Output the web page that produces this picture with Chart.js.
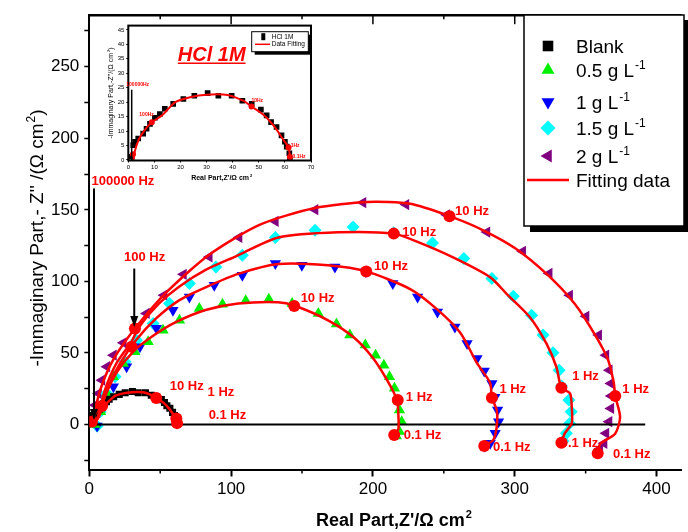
<!DOCTYPE html>
<html>
<head>
<meta charset="utf-8">
<script src="https://cdn.jsdelivr.net/npm/chart.js@4.4.1/dist/chart.umd.min.js"></script>
<style>
    html, body { margin: 0; padding: 0; background: #ffffff; }
    #wrap { position: relative; width: 688px; height: 532px; overflow: hidden; }
    #mainChart { position: absolute; left: 0; top: 0; }
    #insetChart { position: absolute; left: 96px; top: 20px; }
</style>
</head>
<body>
<div id="wrap">
    <canvas id="mainChart" width="688" height="532"></canvas>
    <canvas id="insetChart" width="222" height="168"></canvas>
</div>
<script>
// Nyquist data, Z' (x) and -Z'' (y) in Ω cm²

// Blank (HCl 1M), also shown in the inset
const blankX = [1.3, 1.9, 2.6, 3.8, 5.7, 7.0, 8.3, 10.2, 12.1, 14.0, 17.2, 21.1, 25.3, 30.4, 34.5, 39.6, 43.7, 47.3, 50.8, 53.0, 54.7, 56.8, 58.7, 60.0, 60.7, 61.7, 61.9];
const blankY = [1.1, 5.1, 6.3, 7.4, 9.1, 10.8, 12.5, 14.6, 15.9, 17.7, 19.4, 21.1, 22.2, 23.1, 22.2, 22.2, 20.5, 19.4, 17.4, 15.4, 13.1, 11.4, 8.5, 6.3, 4.6, 2.3, 0.2];
const blankFitX = [2, 2.5, 4, 6, 9, 13, 18, 24, 30, 38, 44, 47.2, 52, 56, 59, 61.4, 61.9];
const blankFitY = [0, 3, 7, 10, 13, 15.5, 20, 21.8, 22.6, 22.5, 20.5, 18.5, 15.5, 11.5, 7.5, 4.3, 1];
const blankFreqX = [1.8, 9, 47.2, 61.4, 61.9];
const blankFreqY = [2, 13, 18.5, 4.3, 1];

// 0.5 g/L
const c05X = [4, 8, 12.4, 17, 24, 32.2, 41.5, 52, 63.6, 77.6, 93.9, 110.3, 126.6, 143, 161.5, 174.3, 183.7, 194.6, 201.9, 207.7, 211.7, 215.2, 217.5, 218.7, 220.3, 218.7, 216.5];
const c05Y = [0, 9, 21.7, 33.4, 42.7, 50.8, 57.8, 65.9, 72.9, 81, 84, 86.5, 87.5, 84.5, 77.6, 70.2, 62.5, 55.5, 48.5, 41.5, 33.4, 25.3, 17.1, 10.1, 2, -4.8, -8];
const c05FitX = [3, 6, 11, 19, 31, 45, 61, 82, 105, 133, 145, 169, 187, 200, 210, 217, 218, 218, 216];
const c05FitY = [0, 5, 19.5, 36, 51, 62, 71.5, 80, 84.5, 85.5, 83, 72.5, 60.5, 46.5, 31, 17, 5.5, -3, -7];
const c05FreqX = [144.5, 217.5, 215];
const c05FreqY = [82.8, 17.1, -7.3];

// 1 g/L
const c1X = [5.5, 10, 17, 26.3, 35.7, 47.3, 59, 70.6, 88.1, 107.9, 131.2, 149.9, 173.2, 195, 214, 231.5, 245.5, 257.8, 266.4, 273.4, 278.5, 283.9, 286, 287.9, 288.6, 286.2, 282.7, 279];
const c1Y = [-1, 12.4, 26.4, 40.4, 54.3, 67.2, 79.9, 89.2, 97.3, 104.3, 112.5, 111.3, 110.1, 107, 98.5, 89.2, 78.7, 68.2, 56.7, 46.2, 37.5, 28.7, 19, 10.1, 2, -6.1, -13.1, -15];
const c1FitX = [3, 7, 12.4, 21.7, 32.9, 46.9, 63.3, 82, 105, 133.4, 168.3, 195.3, 226.6, 245.3, 261.6, 273.2, 282.6, 283.9, 287.3, 287.3, 284.9, 278.5];
const c1FitY = [0, 6, 24.1, 42.7, 58.9, 74, 86.8, 95.9, 105.3, 112.2, 111.3, 107, 94.5, 80.5, 64.2, 43.2, 29.2, 18.7, 10.1, -1.5, -10.7, -15];
const c1FreqX = [29.8, 195.3, 283.9, 278.5];
const c1FreqY = [54.3, 107, 18.7, -15];

// 1.5 g/L
const c15X = [5.5, 7.7, 12.4, 18.2, 25.2, 33.3, 45, 56.6, 70.6, 89.3, 107.9, 131.2, 159.2, 186, 214.7, 242, 264.1, 283.9, 299, 311.9, 320, 327, 331.3, 333, 338.2, 339.8, 338.7, 336.4, 334];
const c15Y = [-1, 9, 21.7, 33.4, 43.9, 58.9, 70.6, 84.6, 98.5, 110.1, 118.3, 130.7, 135.7, 138.1, 134, 126.9, 116, 102, 89.6, 76.4, 62.5, 50.1, 38, 27, 17.1, 9, 0.8, -6.1, -11.5];
const c15FitX = [3, 6, 11, 19.1, 29.8, 35.2, 49.2, 63.3, 82, 103, 133.4, 175.5, 214.7, 231.5, 256.9, 282.6, 294.4, 310.7, 322.4, 329.4, 332.9, 339, 340.2, 340.2, 335.3, 332.9];
const c15FitY = [0, 5, 24.1, 42.7, 58, 68.3, 84.6, 96.3, 108, 117.4, 130.7, 134.3, 133.4, 127.6, 116.6, 103, 91.2, 75, 56.5, 40.2, 25.7, 21.8, 12.4, 0.8, -6.1, -12.7];
const c15FreqX = [214.7, 332.9, 332.9];
const c15FreqY = [133.4, 25.7, -12.7];

// 2 g/L
const c2X = [3, 4.2, 6.5, 8.9, 12.4, 17, 24, 32.2, 40.3, 52.7, 66.4, 84.6, 105.6, 131.2, 159.2, 193, 223.3, 252, 280.4, 305.6, 324.3, 338.7, 350.3, 359.2, 364.3, 366.7, 367.8, 368, 367.8, 366.5, 364.3, 363, 360];
const c2Y = [5, 13.6, 21.7, 31, 40.4, 48.5, 57.1, 67.1, 77.6, 90.4, 105, 117.1, 130.7, 142, 150.1, 155.1, 153.7, 146.5, 134.5, 121, 105.6, 90.3, 75.6, 62.5, 48.5, 38, 28.7, 20, 11.3, 2, -6.1, -13.1, -17];
const c2FitX = [2, 8, 17, 32.2, 55, 85, 120, 159, 196, 226.3, 254, 277.4, 300.6, 323.8, 342.4, 356.3, 365.6, 369.8, 370.9, 374.3, 370.8, 360.3, 358.5];
const c2FitY = [2, 25, 45.5, 67.1, 93, 119, 139.5, 151.3, 155.5, 154.2, 145.6, 135.9, 123, 104, 84.2, 63.2, 45.8, 29.4, 19.9, 5.2, -6.4, -13.5, -20.1];
const c2FreqX = [32.2, 254, 370.9, 358.5];
const c2FreqY = [67.1, 145.6, 19.9, -20.1];

// zero reference line
const baselineX = [0, 392];
const baselineY = [0, 0];

// axis ticks
const xTickValues = [0, 50, 100, 150, 200, 250, 300, 350, 400];
const yTickValues = [-25, 0, 25, 50, 75, 100, 125, 150, 175, 200, 225, 250, 275];
const insetXTicks = [0, 10, 20, 30, 40, 50, 60, 70];
const insetYTicks = [0, 5, 10, 15, 20, 25, 30, 35, 40, 45];

// frequency annotations (text, x, y in data units)
const freqLabels = [
    ['100000 Hz', 23.7, 170],
    ['100 Hz', 39, 117],
    ['10 Hz', 68.7, 26.5], ['1 Hz', 92.8, 22.5], ['0.1 Hz', 97.4, 6.7],
    ['10 Hz', 161, 88], ['1 Hz', 232.6, 18.9], ['0.1 Hz', 235, -7.7],
    ['10 Hz', 212.8, 110.2], ['1 Hz', 298.6, 24.5], ['0.1 Hz', 297.9, -16.2],
    ['10 Hz', 232.6, 134.5], ['1 Hz', 349.9, 33.4], ['0.1 Hz', 345.7, -13],
    ['10 Hz', 269.9, 149.2], ['1 Hz', 385.3, 24.5], ['0.1 Hz', 382.5, -20.8],
];
const freqArrows = [
    [3.3, 165, 3.1],
    [31.7, 109, 68.2],
];
const insetFreqLabels = [
    ['100000Hz', 3.6, 26.2], ['100Hz', 7, 15.7], ['10Hz', 49.4, 20.5],
    ['1Hz', 63.9, 4.9], ['0.1Hz', 65.4, 1.1],
];

const FONT = "'Liberation Sans', Arial, Helvetica, sans-serif";
const RED = '#ff0000';

const zip = (xs, ys) => xs.map((x, i) => ({ x, y: ys[i] }));

const series = [
    { label: 'Blank', x: blankX, y: blankY, fitX: blankFitX, fitY: blankFitY, freqX: blankFreqX, freqY: blankFreqY, color: '#000000', shape: 'rect', rotation: 0, radius: 5 },
    { label: '0.5 g L⁻¹', x: c05X, y: c05Y, fitX: c05FitX, fitY: c05FitY, freqX: c05FreqX, freqY: c05FreqY, color: '#00ee00', shape: 'triangle', rotation: 0, radius: 6.5 },
    { label: '1 g L⁻¹', x: c1X, y: c1Y, fitX: c1FitX, fitY: c1FitY, freqX: c1FreqX, freqY: c1FreqY, color: '#0000ff', shape: 'triangle', rotation: 180, radius: 6.5 },
    { label: '1.5 g L⁻¹', x: c15X, y: c15Y, fitX: c15FitX, fitY: c15FitY, freqX: c15FreqX, freqY: c15FreqY, color: '#00ffff', shape: 'rectRot', rotation: 0, radius: 6.5 },
    { label: '2 g L⁻¹', x: c2X, y: c2Y, fitX: c2FitX, fitY: c2FitY, freqX: c2FreqX, freqY: c2FreqY, color: '#800080', shape: 'triangle', rotation: 270, radius: 6.5 },
];

// small marker shapes for the hand-drawn legends
function drawMarker(ctx, shape, rotation, x, y, r, color) {
    ctx.save();
    ctx.fillStyle = color;
    ctx.beginPath();
    if (shape === 'rect') {
        const s = r * Math.SQRT1_2;
        ctx.rect(x - s, y - s, 2 * s, 2 * s);
    } else if (shape === 'rectRot') {
        ctx.moveTo(x, y - r);
        ctx.lineTo(x + r, y);
        ctx.lineTo(x, y + r);
        ctx.lineTo(x - r, y);
        ctx.closePath();
    } else {
        let a = rotation * Math.PI / 180;
        for (let i = 0; i < 3; i++) {
            const px = x + Math.sin(a) * r;
            const py = y - Math.cos(a) * r;
            if (i === 0) ctx.moveTo(px, py); else ctx.lineTo(px, py);
            a += 2 * Math.PI / 3;
        }
        ctx.closePath();
    }
    ctx.fill();
    ctx.restore();
}

// text with an optional "⁻¹" / "²" drawn as a raised small suffix
function drawSupText(ctx, text, x, y, size, weight, align) {
    let base = text;
    let sup = '';
    let tail = '';
    const m = text.match(/^(.*?)(⁻¹|²)(.*)$/);
    if (m) {
        base = m[1];
        sup = m[2] === '⁻¹' ? '-1' : '2';
        tail = m[3];
    }
    const big = `${weight} ${size}px ${FONT}`;
    const small = `${weight} ${Math.round(size * 0.62)}px ${FONT}`;
    ctx.font = big;
    const wBase = ctx.measureText(base).width;
    const wTail = ctx.measureText(tail).width;
    ctx.font = small;
    const wSup = sup ? ctx.measureText(sup).width + 1 : 0;
    const total = wBase + wSup + wTail;
    let x0 = x;
    if (align === 'center') x0 = x - total / 2;
    ctx.textAlign = 'left';
    ctx.textBaseline = 'alphabetic';
    ctx.font = big;
    ctx.fillText(base, x0, y);
    if (sup) {
        ctx.font = small;
        ctx.fillText(sup, x0 + wBase + 1, y - size * 0.42);
    }
    ctx.font = big;
    ctx.fillText(tail, x0 + wBase + wSup, y);
}

function drawArrow(ctx, x, yTop, yTip) {
    ctx.save();
    ctx.strokeStyle = '#000';
    ctx.fillStyle = '#000';
    ctx.lineWidth = 2;
    ctx.beginPath();
    ctx.moveTo(x, yTop);
    ctx.lineTo(x, yTip - 8);
    ctx.stroke();
    ctx.beginPath();
    ctx.moveTo(x - 4, yTip - 11);
    ctx.lineTo(x + 4, yTip - 11);
    ctx.lineTo(x, yTip);
    ctx.closePath();
    ctx.fill();
    ctx.restore();
}

const mainDatasets = [];
series.forEach((s) => {
    mainDatasets.push({
        label: s.label,
        data: zip(s.x, s.y),
        pointStyle: s.shape,
        rotation: s.rotation,
        pointRadius: s.radius,
        backgroundColor: s.color,
        borderWidth: 0,
        showLine: false,
        order: 3,
    });
});
mainDatasets.push({
    label: 'baseline',
    data: zip(baselineX, baselineY),
    showLine: true,
    borderColor: '#000',
    borderWidth: 2,
    pointRadius: 0,
    order: 2,
});
series.forEach((s) => {
    mainDatasets.push({
        label: 'fit ' + s.label,
        data: zip(s.fitX, s.fitY),
        showLine: true,
        borderColor: RED,
        borderWidth: 2.5,
        tension: 0.25,
        pointRadius: 0,
        order: 1,
    });
});
series.forEach((s) => {
    mainDatasets.push({
        label: 'freq ' + s.label,
        data: zip(s.freqX, s.freqY),
        pointStyle: 'circle',
        pointRadius: 6,
        backgroundColor: RED,
        borderWidth: 0,
        showLine: false,
        order: 0,
    });
});

const mainDecor = {
    id: 'mainDecor',
    beforeDraw(chart) {
        const ctx = chart.ctx;
        ctx.save();
        ctx.fillStyle = '#ffffff';
        ctx.fillRect(0, 0, chart.width, chart.height);
        ctx.restore();
    },
    afterDatasetsDraw(chart) {
        const ctx = chart.ctx;
        const xs = chart.scales.x;
        const ys = chart.scales.y;
        const area = chart.chartArea;

        ctx.save();
        // top frame line with inward ticks, short minor ticks on the bottom axis
        ctx.strokeStyle = '#000';
        ctx.lineWidth = 2.5;
        ctx.beginPath();
        ctx.moveTo(area.left - 1, area.top);
        ctx.lineTo(area.right, area.top);
        ctx.stroke();
        ctx.lineWidth = 1.5;
        xTickValues.forEach((v) => {
            if (v === 0) return;
            const px = xs.getPixelForValue(v);
            const major = v % 100 === 0;
            ctx.beginPath();
            ctx.moveTo(px, area.top);
            ctx.lineTo(px, area.top + (major ? 9 : 4));
            ctx.stroke();
            if (!major) {
                ctx.beginPath();
                ctx.moveTo(px, area.bottom);
                ctx.lineTo(px, area.bottom + 4);
                ctx.stroke();
            }
        });

        freqArrows.forEach(([x, y1, y2]) => {
            drawArrow(ctx, xs.getPixelForValue(x), ys.getPixelForValue(y1), ys.getPixelForValue(y2));
        });

        ctx.fillStyle = RED;
        ctx.font = `bold 13px ${FONT}`;
        ctx.textAlign = 'center';
        ctx.textBaseline = 'middle';
        freqLabels.forEach(([text, x, y]) => {
            ctx.fillText(text, xs.getPixelForValue(x), ys.getPixelForValue(y));
        });

        // axis titles
        ctx.fillStyle = '#000';
        drawSupText(ctx, "Real Part,Z'/Ω cm²", 394, 526, 18, 'bold', 'center');
        ctx.save();
        ctx.translate(43, 238);
        ctx.rotate(-Math.PI / 2);
        drawSupText(ctx, "-Immaginary Part,- Z'' /(Ω cm²)", 0, 0, 19, 'normal', 'center');
        ctx.restore();
        ctx.restore();
    },
    afterDraw(chart) {
        const ctx = chart.ctx;
        const box = { left: 524, top: 15, right: 684, bottom: 226 };
        const rows = [46, 70, 102, 128, 156];

        ctx.save();
        ctx.fillStyle = '#000';
        ctx.fillRect(box.left + 6, box.top + 5, box.right - box.left, box.bottom - box.top + 1);
        ctx.fillStyle = '#fff';
        ctx.fillRect(box.left, box.top, box.right - box.left, box.bottom - box.top);
        ctx.strokeStyle = '#000';
        ctx.lineWidth = 1.5;
        ctx.strokeRect(box.left, box.top, box.right - box.left, box.bottom - box.top);

        series.forEach((s, i) => {
            const r = s.shape === 'rect' ? 7.5 : 7.5;
            drawMarker(ctx, s.shape, s.rotation, 548, rows[i], r, s.color);
            ctx.fillStyle = '#000';
            drawSupText(ctx, s.label, 576, rows[i] + 7, 19, 'normal', 'left');
        });
        ctx.strokeStyle = RED;
        ctx.lineWidth = 2.5;
        ctx.beginPath();
        ctx.moveTo(527, 180);
        ctx.lineTo(569, 180);
        ctx.stroke();
        ctx.fillStyle = '#000';
        drawSupText(ctx, 'Fitting data', 576, 187, 19, 'normal', 'left');
        ctx.restore();
    },
};

new Chart(document.getElementById('mainChart'), {
    type: 'scatter',
    data: { datasets: mainDatasets },
    options: {
        responsive: false,
        animation: false,
        events: [],
        layout: { padding: { top: 14.5, right: 0, bottom: 0, left: 0 } },
        plugins: { legend: { display: false }, tooltip: { enabled: false } },
        scales: {
            x: {
                type: 'linear',
                min: 0,
                max: 417.6,
                afterBuildTicks(axis) {
                    axis.ticks = xTickValues.map((v) => ({ value: v }));
                },
                afterFit(axis) {
                    axis.height = 62.5;
                },
                ticks: {
                    autoSkip: false,
                    maxRotation: 0,
                    padding: 3,
                    color: '#000',
                    font: { family: FONT, size: 17 },
                    callback: (v) => (v % 100 === 0 ? String(v) : ''),
                },
                grid: {
                    drawOnChartArea: false,
                    tickLength: 7,
                    tickWidth: 2,
                    tickColor: (c) => (c.tick && c.tick.value % 100 === 0 ? '#000' : 'rgba(0,0,0,0)'),
                },
                border: { display: true, color: '#000', width: 2 },
            },
            y: {
                type: 'linear',
                min: -31.4,
                max: 286,
                afterBuildTicks(axis) {
                    axis.ticks = yTickValues.map((v) => ({ value: v }));
                },
                afterFit(axis) {
                    axis.width = 89.3;
                },
                ticks: {
                    autoSkip: false,
                    padding: 5,
                    color: '#000',
                    font: { family: FONT, size: 17 },
                    callback: (v) => (v % 50 === 0 && v >= 0 && v <= 250 ? String(v) : ''),
                },
                grid: {
                    drawOnChartArea: false,
                    tickLength: 5,
                    tickWidth: 1.5,
                    tickColor: '#000',
                },
                border: { display: true, color: '#000', width: 2 },
            },
        },
    },
    plugins: [mainDecor],
});

// inset: the blank on its own scale
const insetDecor = {
    id: 'insetDecor',
    beforeDatasetsDraw(chart) {
        const ctx = chart.ctx;
        const a = chart.chartArea;
        ctx.save();
        ctx.fillStyle = '#fff';
        ctx.fillRect(a.left, a.top, a.right - a.left, a.bottom - a.top);
        ctx.restore();
    },
    afterDatasetsDraw(chart) {
        const ctx = chart.ctx;
        const a = chart.chartArea;
        const xs = chart.scales.x;
        const ys = chart.scales.y;
        ctx.save();
        ctx.strokeStyle = '#000';
        ctx.lineWidth = 2;
        ctx.strokeRect(a.left, a.top, a.right - a.left, a.bottom - a.top);

        // high-frequency marker line
        ctx.lineWidth = 1.5;
        ctx.beginPath();
        ctx.moveTo(xs.getPixelForValue(1.3), ys.getPixelForValue(0));
        ctx.lineTo(xs.getPixelForValue(1.3), ys.getPixelForValue(24.3));
        ctx.stroke();

        ctx.fillStyle = RED;
        ctx.font = `bold 5px ${FONT}`;
        ctx.textAlign = 'center';
        ctx.textBaseline = 'middle';
        insetFreqLabels.forEach(([text, x, y]) => {
            ctx.fillText(text, xs.getPixelForValue(x), ys.getPixelForValue(y));
        });

        // HCl 1M caption
        ctx.font = `italic bold 20px ${FONT}`;
        ctx.textAlign = 'center';
        ctx.textBaseline = 'alphabetic';
        ctx.fillText('HCl 1M', 115.7, 40.5);
        const w = ctx.measureText('HCl 1M').width;
        ctx.fillRect(115.7 - w / 2, 42.5, w, 1.5);

        // legend box
        ctx.fillStyle = '#000';
        ctx.fillRect(158.7, 14.7, 56.6, 20);
        ctx.fillStyle = '#fff';
        ctx.fillRect(155.7, 11.7, 56.6, 20);
        ctx.lineWidth = 1;
        ctx.strokeRect(155.7, 11.7, 56.6, 20);
        ctx.fillStyle = '#000';
        ctx.fillRect(165.3, 13.2, 4, 7);
        ctx.strokeStyle = RED;
        ctx.lineWidth = 1.5;
        ctx.beginPath();
        ctx.moveTo(159, 24.3);
        ctx.lineTo(174, 24.3);
        ctx.stroke();
        ctx.fillStyle = '#000';
        ctx.font = `6.5px ${FONT}`;
        ctx.textAlign = 'left';
        ctx.textBaseline = 'middle';
        ctx.fillText('HCl 1M', 175.7, 16.9);
        ctx.fillText('Data Fitting', 175.7, 24.5);

        // axis titles
        drawSupText(ctx, "Real Part,Z'/Ω cm²", 125.7, 159.5, 7, 'bold', 'center');
        ctx.save();
        ctx.translate(16.5, 73);
        ctx.rotate(-Math.PI / 2);
        drawSupText(ctx, "-Immaginary Part,-Z''/(Ω cm²)", 0, 0, 7, 'normal', 'center');
        ctx.restore();
        ctx.restore();
    },
};

new Chart(document.getElementById('insetChart'), {
    type: 'scatter',
    data: {
        datasets: [
            {
                label: 'HCl 1M',
                data: zip(blankX, blankY),
                pointStyle: 'rect',
                pointRadius: 4,
                backgroundColor: '#000',
                borderWidth: 0,
                order: 2,
            },
            {
                label: 'Data Fitting',
                data: zip(blankFitX, blankFitY),
                showLine: true,
                borderColor: RED,
                borderWidth: 2,
                tension: 0.25,
                pointRadius: 0,
                order: 1,
            },
            {
                label: 'freq',
                data: zip(blankFreqX, blankFreqY),
                pointStyle: 'circle',
                pointRadius: 3,
                backgroundColor: RED,
                borderWidth: 0,
                order: 0,
            },
        ],
    },
    options: {
        responsive: false,
        animation: false,
        events: [],
        layout: { padding: { top: 4, right: 7, bottom: 0, left: 0 } },
        plugins: { legend: { display: false }, tooltip: { enabled: false } },
        scales: {
            x: {
                type: 'linear',
                min: 0,
                max: 70,
                afterBuildTicks(axis) {
                    axis.ticks = insetXTicks.map((v) => ({ value: v }));
                },
                afterFit(axis) {
                    axis.height = 27.5;
                },
                ticks: {
                    autoSkip: false,
                    maxRotation: 0,
                    padding: 1,
                    color: '#000',
                    font: { family: FONT, size: 6 },
                },
                grid: { drawOnChartArea: false, tickLength: 2, tickColor: '#000' },
                border: { display: false },
            },
            y: {
                type: 'linear',
                min: -0.2,
                max: 46.5,
                afterBuildTicks(axis) {
                    axis.ticks = insetYTicks.map((v) => ({ value: v }));
                },
                afterFit(axis) {
                    axis.width = 32.3;
                },
                ticks: {
                    autoSkip: false,
                    padding: 2,
                    color: '#000',
                    font: { family: FONT, size: 6 },
                },
                grid: { drawOnChartArea: false, tickLength: 2, tickColor: '#000' },
                border: { display: false },
            },
        },
    },
    plugins: [insetDecor],
});
</script>
</body>
</html>
